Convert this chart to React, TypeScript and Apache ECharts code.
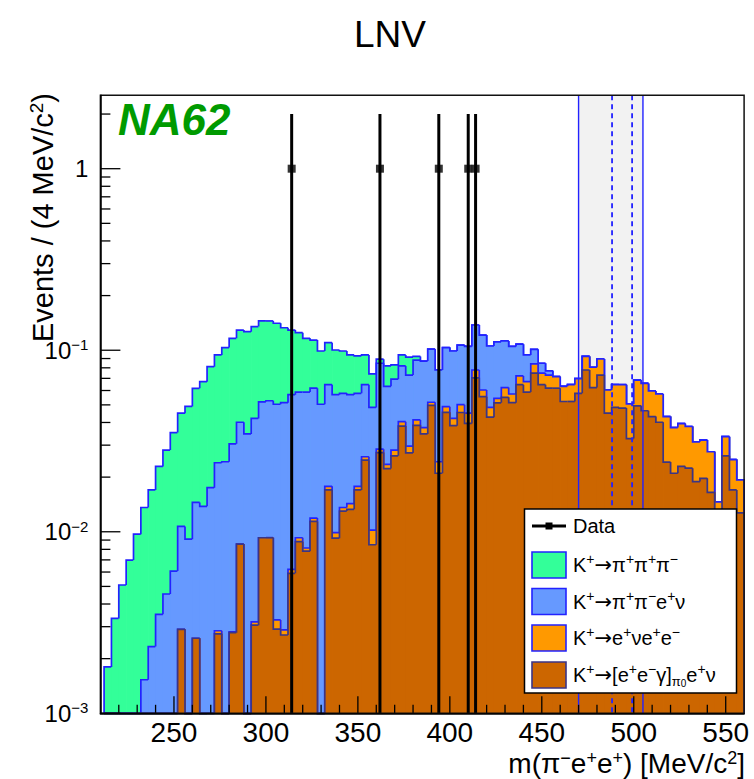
import React, { useEffect, useRef } from "react";
import * as echarts from "echarts";

const FONT = '"Liberation Sans", Arial, Helvetica, sans-serif';
const X_MIN = 210;
const X_MAX = 560;
const Y_MIN = 0.001;
const Y_MAX = 2.537;
const BIN_START = 212;
const BIN_WIDTH = 4;

// stacked levels (as drawn by the THStack), one value per 4 MeV bin from 212 to 560 MeV
// K+ -> pi+ pi+ pi- (top of the stack)
const levelPi3 = [
  0.0018, 0.00333, 0.00509, 0.00698, 0.0097, 0.0136, 0.017, 0.0229, 0.0282, 0.0352,
  0.045, 0.049, 0.0617, 0.0671, 0.0812, 0.0942, 0.1034, 0.1163, 0.1292, 0.1265,
  0.135, 0.145, 0.145, 0.1408, 0.133, 0.1292, 0.125, 0.1163, 0.1138, 0.099,
  0.11, 0.1003, 0.099, 0.0942, 0.093, 0.0942, 0.074, 0.0893, 0.082, 0.083,
  0.0942, 0.0916, 0.0925, 0.0872, 0.1015, 0.0778, 0.1034, 0.099, 0.1067, 0.105,
  0.1377, 0.1212, 0.1055, 0.1113, 0.1125, 0.105, 0.108, 0.0942, 0.101, 0.0848,
  0.077, 0.0715, 0.0633, 0.0646, 0.0698, 0.0925, 0.0806, 0.0895, 0.0604, 0.0646,
  0.0646, 0.0506, 0.0685, 0.0656, 0.0597, 0.0574, 0.0431, 0.0375, 0.0394, 0.038,
  0.0313, 0.032, 0.0276, 0.0146, 0.0334, 0.025, 0.0193,
];
// K+ -> pi+ pi- e+ nu
const levelPi2ev = [
  0, 0, 0, 0, 0, 0.00153, 0.00233, 0.00351, 0.00454, 0.00607,
  0.0107, 0.0091, 0.0145, 0.0138, 0.0175, 0.024, 0.0243, 0.0305, 0.0401, 0.0346,
  0.0421, 0.052, 0.0527, 0.0504, 0.0514, 0.0569, 0.0588, 0.0588, 0.0618, 0.0504,
  0.0646, 0.0569, 0.0579, 0.0569, 0.0579, 0.0646, 0.0484, 0.0848, 0.0633, 0.0693,
  0.082, 0.073, 0.0883, 0.0872, 0.1015, 0.0778, 0.1034, 0.099, 0.1067, 0.105,
  0.1377, 0.1212, 0.1055, 0.1113, 0.1125, 0.105, 0.108, 0.0942, 0.101, 0.0848,
  0.077, 0.0715, 0.0633, 0.0646, 0.0698, 0.0925, 0.0806, 0.0895, 0.0604, 0.0646,
  0.0646, 0.0506, 0.0685, 0.0656, 0.0597, 0.0574, 0.0431, 0.0375, 0.0394, 0.038,
  0.0313, 0.032, 0.0276, 0.0146, 0.0334, 0.025, 0.0193,
];
// K+ -> e+ nu e+ e-
const levelEvee = [
  0, 0, 0, 0, 0, 0, 0, 0, 0, 0,
  0.0029, 0, 0.00259, 0, 0, 0.00285, 0, 0.00281, 0.00855, 0,
  0.00319, 0.00927, 0.00927, 0.00327, 0.00288, 0.00621, 0.00927, 0.00814, 0.0119, 0,
  0.0178, 0.0099, 0.0136, 0.0143, 0.0178, 0.0259, 0.0102, 0.0285, 0.0235, 0.0282,
  0.0404, 0.0296, 0.0413, 0.0375, 0.0517, 0.0243, 0.0489, 0.0421, 0.0501, 0.045,
  0.0778, 0.0604, 0.0484, 0.0543, 0.0623, 0.0574, 0.0722, 0.0671, 0.0842, 0.0748,
  0.073, 0.0715, 0.0633, 0.0646, 0.0698, 0.0925, 0.0806, 0.0895, 0.0604, 0.0646,
  0.0646, 0.0506, 0.0685, 0.0656, 0.0597, 0.0574, 0.0431, 0.0375, 0.0394, 0.038,
  0.0313, 0.032, 0.0276, 0.0146, 0.0334, 0.025, 0.0193,
];
// K+ -> [e+ e- gamma]_pi0 e+ nu (bottom of the stack)
const levelDalitz = [
  0, 0, 0, 0, 0, 0, 0, 0, 0, 0,
  0.0029, 0, 0.00259, 0, 0, 0.00274, 0, 0.00278, 0.00855, 0,
  0.00306, 0.00927, 0.00927, 0.00291, 0.0027, 0.0059, 0.00882, 0.00782, 0.0114, 0,
  0.017, 0.00922, 0.013, 0.0133, 0.017, 0.0248, 0.00848, 0.0273, 0.0223, 0.0262,
  0.0382, 0.0272, 0.0386, 0.0346, 0.0497, 0.021, 0.0455, 0.0384, 0.0454, 0.0395,
  0.0705, 0.0555, 0.0428, 0.0513, 0.055, 0.0514, 0.0646, 0.0588, 0.0748, 0.0646,
  0.0618, 0.0618, 0.0522, 0.0522, 0.0579, 0.0778, 0.0623, 0.073, 0.045, 0.0484,
  0.048, 0.0326, 0.0494, 0.0464, 0.0431, 0.0401, 0.0242, 0.021, 0.0229, 0.0224,
  0.0189, 0.0197, 0.0165, 0.0125, 0.0262, 0.017, 0.0127,
];

// observed data
const dataMass = [314, 362, 394, 410, 414];
const dataEvents = [1, 1, 1, 1, 1];
const dataErrLow = [1, 1, 1, 1, 1];
const dataErrHigh = [1, 1, 1, 1, 1];

// signal region band
const bandEdges = [470, 505];
const bandInner = [488.2, 499.1];

const xMajorTicks = [250, 300, 350, 400, 450, 500, 550];
const yDecades = [0.001, 0.01, 0.1, 1];

const COL_PI3 = "#33ff99";
const COL_PI2EV = "#6699ff";
const COL_EVEE = "#ff9900";
const COL_DALITZ = "#cc6600";
const LINE_BLUE = "#2222ff";
const LINE_DALITZ = "#3b3585";

function histogramSeries(name: string, levels: number[], fill: string, stroke: string, z: number) {
  const data = levels.map((v, i) => {
    const lo = BIN_START + i * BIN_WIDTH;
    return [lo, lo + BIN_WIDTH, v, i > 0 ? levels[i - 1] : 0, i === levels.length - 1 ? 1 : 0];
  });
  return {
    type: "custom",
    name,
    z,
    silent: true,
    encode: { x: [0, 1], y: 2 },
    data,
    renderItem: (_p: any, api: any) => {
      const x0 = api.value(0);
      const x1 = api.value(1);
      const v = Math.max(api.value(2), Y_MIN);
      const pv = Math.max(api.value(3), Y_MIN);
      const last = api.value(4) === 1;
      const tl = api.coord([x0, v]);
      const br = api.coord([x1, Y_MIN]);
      const prev = api.coord([x0, pv]);
      const children: any[] = [];
      if (v > Y_MIN) {
        children.push({
          type: "rect",
          shape: { x: tl[0], y: tl[1], width: br[0] - tl[0] + (last ? 0 : 0.7), height: br[1] - tl[1] },
          style: { fill },
        });
      }
      const pts = [
        [tl[0], prev[1]],
        [tl[0], tl[1]],
        [br[0], tl[1]],
      ];
      if (last) pts.push([br[0], br[1]]);
      children.push({ type: "polyline", shape: { points: pts }, style: { stroke, lineWidth: 1.7, fill: null } });
      return { type: "group", children };
    },
  };
}

const legendRich = {
  sup: { fontSize: 14, lineHeight: 14, verticalAlign: "top", fontFamily: FONT, fill: "#000" },
  sub: { fontSize: 13, lineHeight: 13, verticalAlign: "bottom", fontFamily: FONT, fill: "#000" },
  subsup: { fontSize: 10, lineHeight: 22, verticalAlign: "bottom", fontFamily: FONT, fill: "#000" },
  arr: { fontSize: 21, lineHeight: 26, fontFamily: '"DejaVu Sans", sans-serif', fill: "#000" },
};

export default function App() {
  const ref = useRef<HTMLDivElement>(null);

  useEffect(() => {
    if (!ref.current) return;
    const chart = echarts.init(ref.current, undefined, { renderer: "svg" });

    const xMinor: number[][] = [];
    for (let v = 220; v < X_MAX; v += 10) if (v % 50 !== 0) xMinor.push([v, 8.5]);
    const xTickData = [...xMajorTicks.map((v) => [v, 17]), ...xMinor];
    const yTickData: number[][] = [];
    yDecades.forEach((d) => {
      yTickData.push([d, 20]);
      for (let m = 2; m <= 9; m++) if (d * m < Y_MAX) yTickData.push([d * m, 10]);
    });

    const legendRows = [
      { y: 565, fill: COL_PI3, stroke: LINE_BLUE, text: "K{sup|+}{arr|→}π{sup|+}π{sup|+}π{sup|−}" },
      { y: 601.5, fill: COL_PI2EV, stroke: LINE_BLUE, text: "K{sup|+}{arr|→}π{sup|+}π{sup|−}e{sup|+}ν" },
      { y: 638, fill: COL_EVEE, stroke: LINE_BLUE, text: "K{sup|+}{arr|→}e{sup|+}νe{sup|+}e{sup|−}" },
      { y: 675, fill: COL_DALITZ, stroke: LINE_DALITZ, text: "K{sup|+}{arr|→}[e{sup|+}e{sup|−}γ]{sub|π}{subsup|0}e{sup|+}ν" },
    ];

    const graphic: any[] = [
      {
        type: "text",
        x: 118,
        y: 119,
        z: 20,
        style: {
          text: "NA62",
          fontSize: 44,
          fontWeight: "bold",
          fontStyle: "italic",
          fontFamily: FONT,
          fill: "#009a00",
          verticalAlign: "middle",
        },
      },
      {
        type: "text",
        x: 43,
        y: 93,
        rotation: Math.PI / 2,
        z: 20,
        style: {
          text: "Events / (4 MeV/c{sup|2})",
          fontSize: 29,
          lineHeight: 32,
          fontFamily: FONT,
          fill: "#000",
          align: "right",
          verticalAlign: "middle",
          rich: { sup: { fontSize: 19, lineHeight: 22, verticalAlign: "top", fontFamily: FONT, fill: "#000" } },
        },
      },
      {
        type: "text",
        x: 745,
        y: 763,
        z: 20,
        style: {
          text: "m(π{sup|−}e{sup|+}e{sup|+}) [MeV/c{sup|2}]",
          fontSize: 28,
          lineHeight: 28,
          fontFamily: FONT,
          fill: "#000",
          align: "right",
          verticalAlign: "middle",
          rich: { sup: { fontSize: 18, lineHeight: 18, verticalAlign: "top", fontFamily: FONT, fill: "#000" } },
        },
      },
      {
        type: "rect",
        z: 20,
        shape: { x: 524.5, y: 509, width: 212, height: 184 },
        style: { fill: "#fff", stroke: "#000", lineWidth: 1.5 },
      },
      {
        type: "line",
        z: 21,
        shape: { x1: 532, y1: 526, x2: 566, y2: 526 },
        style: { stroke: "#000", lineWidth: 3 },
      },
      {
        type: "rect",
        z: 21,
        shape: { x: 545.5, y: 522.5, width: 7, height: 7 },
        style: { fill: "#000" },
      },
      {
        type: "text",
        z: 21,
        x: 573,
        y: 526,
        style: { text: "Data", fontSize: 20, fontFamily: FONT, fill: "#000", verticalAlign: "middle" },
      },
      ...legendRows.flatMap((r) => [
        {
          type: "rect",
          z: 21,
          shape: { x: 532, y: r.y - 13, width: 34, height: 26 },
          style: { fill: r.fill, stroke: r.stroke, lineWidth: 1.6 },
        },
        {
          type: "text",
          z: 21,
          x: 573,
          y: r.y,
          style: {
            text: r.text,
            fontSize: 20,
            lineHeight: 26,
            fontFamily: FONT,
            fill: "#000",
            verticalAlign: "middle",
            rich: legendRich,
          },
        },
      ]),
    ];

    chart.setOption({
      animation: false,
      backgroundColor: "#fff",
      title: {
        text: "LNV",
        left: 385,
        top: 9,
        textAlign: "center",
        textStyle: { fontSize: 37, lineHeight: 40, fontWeight: "normal", color: "#000", fontFamily: FONT },
      },
      grid: {
        left: 100.4,
        right: 9.9,
        top: 95.3,
        bottom: 65.7,
        containLabel: false,
        show: true,
        z: 10,
        borderColor: "#111",
        borderWidth: 1.5,
        backgroundColor: "transparent",
      },
      xAxis: {
        type: "value",
        min: X_MIN,
        max: X_MAX,
        splitNumber: 7,
        z: 10,
        axisLine: { show: true, lineStyle: { color: "#000", width: 1.5 } },
        axisTick: { show: false },
        splitLine: { show: false },
        axisLabel: {
          margin: 5,
          fontSize: 28,
          lineHeight: 28,
          color: "#000",
          fontFamily: FONT,
          showMinLabel: false,
          showMaxLabel: false,
          formatter: (v: number) => (xMajorTicks.includes(Math.round(v)) && Math.abs(v - Math.round(v)) < 1e-6 ? String(Math.round(v)) : ""),
        },
      },
      yAxis: {
        type: "log",
        logBase: 10,
        min: Y_MIN,
        max: Y_MAX,
        z: 10,
        axisLine: { show: true, lineStyle: { color: "#000", width: 1.5 } },
        axisTick: { show: false },
        splitLine: { show: false },
        axisLabel: {
          margin: 12,
          color: "#000",
          fontFamily: FONT,
          fontSize: 24,
          formatter: (v: number) => {
            const e = Math.log10(v);
            const r = Math.round(e);
            if (Math.abs(e - r) > 1e-6) return "";
            if (r === 0) return "{b|1}";
            return `{b|10}{s|−${Math.abs(r)}}`;
          },
          rich: {
            b: { fontSize: 24, lineHeight: 26, fontFamily: FONT, color: "#000" },
            s: { fontSize: 15, lineHeight: 18, verticalAlign: "top", fontFamily: FONT, color: "#000" },
          },
        },
      },
      graphic,
      series: [
        {
          type: "custom",
          name: "band",
          z: 1,
          silent: true,
          data: [[bandEdges[0], bandEdges[1]]],
          encode: { x: [0, 1] },
          renderItem: (_p: any, api: any) => {
            const a = api.coord([api.value(0), Y_MAX]);
            const b = api.coord([api.value(1), Y_MIN]);
            return { type: "rect", shape: { x: a[0], y: a[1], width: b[0] - a[0], height: b[1] - a[1] }, style: { fill: "#f2f2f2" } };
          },
        },
        histogramSeries("K+→π+π+π−", levelPi3, COL_PI3, LINE_BLUE, 2),
        histogramSeries("K+→π+π−e+ν", levelPi2ev, COL_PI2EV, LINE_BLUE, 3),
        histogramSeries("K+→e+νe+e−", levelEvee, COL_EVEE, LINE_BLUE, 4),
        histogramSeries("K+→[e+e−γ]π0e+ν", levelDalitz, COL_DALITZ, LINE_DALITZ, 5),
        {
          type: "custom",
          name: "band lines",
          z: 6,
          silent: true,
          data: [
            [bandEdges[0], 0],
            [bandEdges[1], 0],
            [bandInner[0], 1],
            [bandInner[1], 1],
          ],
          encode: { x: 0 },
          renderItem: (_p: any, api: any) => {
            const a = api.coord([api.value(0), Y_MAX]);
            const b = api.coord([api.value(0), Y_MIN]);
            const dashed = api.value(1) === 1;
            return {
              type: "line",
              shape: { x1: a[0], y1: a[1], x2: b[0], y2: b[1] },
              style: { stroke: LINE_BLUE, lineWidth: dashed ? 1.8 : 1.4, lineDash: dashed ? [5, 4] : null },
            };
          },
        },
        {
          type: "custom",
          name: "Data errors",
          z: 7,
          silent: true,
          data: dataMass.map((m, i) => [m, dataEvents[i] - dataErrLow[i], dataEvents[i] + dataErrHigh[i]]),
          encode: { x: 0, y: 2 },
          renderItem: (_p: any, api: any) => {
            const a = api.coord([api.value(0), Math.max(api.value(1), Y_MIN)]);
            const b = api.coord([api.value(0), api.value(2)]);
            return { type: "line", shape: { x1: a[0], y1: a[1], x2: b[0], y2: b[1] }, style: { stroke: "#000", lineWidth: 3 } };
          },
        },
        {
          type: "scatter",
          name: "Data",
          z: 8,
          silent: true,
          symbol: "rect",
          symbolSize: 8,
          itemStyle: { color: "#000" },
          data: dataMass.map((m, i) => [m, dataEvents[i]]),
        },
        {
          type: "custom",
          name: "x ticks",
          z: 9,
          silent: true,
          data: xTickData,
          encode: { x: 0 },
          renderItem: (_p: any, api: any) => {
            const p = api.coord([api.value(0), Y_MIN]);
            return { type: "line", shape: { x1: p[0], y1: p[1], x2: p[0], y2: p[1] - api.value(1) }, style: { stroke: "#000", lineWidth: 1.3 } };
          },
        },
        {
          type: "custom",
          name: "y ticks",
          z: 9,
          silent: true,
          data: yTickData,
          encode: { y: 0 },
          renderItem: (_p: any, api: any) => {
            const p = api.coord([X_MIN, api.value(0)]);
            return { type: "line", shape: { x1: p[0], y1: p[1], x2: p[0] + api.value(1), y2: p[1] }, style: { stroke: "#000", lineWidth: 1.3 } };
          },
        },
      ],
    });

    return () => chart.dispose();
  }, []);

  return <div ref={ref} style={{ position: "fixed", left: 0, top: 0, width: 754, height: 779 }} />;
}
